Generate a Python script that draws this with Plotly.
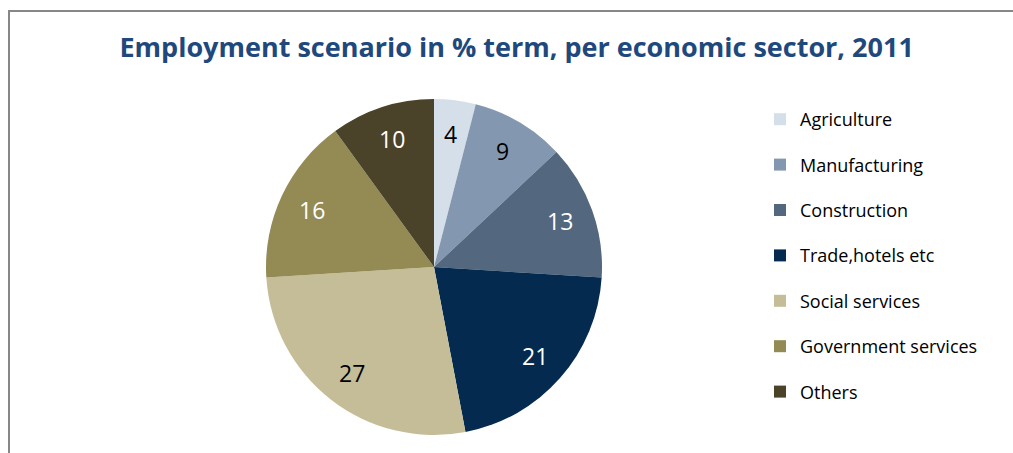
import math
import plotly.graph_objects as go

categories = ["Agriculture", "Manufacturing", "Construction", "Trade,hotels etc",
              "Social services", "Government services", "Others"]
values = [4, 9, 13, 21, 27, 16, 10]
colors = ["#D5DFE9", "#8497B0", "#53677E", "#042A4F", "#C4BD97", "#948A54", "#4A4229"]
label_colors = ["black", "black", "white", "white", "black", "white", "white"]

W, H = 1013, 453
cx, cy, r = 434, 267, 168
FONT = "Open Sans, sans-serif"

fig = go.Figure(go.Pie(
    labels=categories, values=values, sort=False, direction="clockwise", rotation=0,
    marker=dict(colors=colors, line=dict(width=0)),
    textinfo="none", hoverinfo="label+value", showlegend=False,
    domain=dict(x=[(cx - r) / W, (cx + r) / W], y=[1 - (cy + r) / H, 1 - (cy - r) / H]),
))

# legend entries (one per category, separate groups so gaps can be set)
for name, col in zip(categories, colors):
    fig.add_trace(go.Scatter(x=[None], y=[None], mode="markers", name=name,
                             legendgroup=name,
                             marker=dict(symbol="square", size=12, color=col)))

# data labels placed along each slice's mid-angle
total = sum(values)
cum = 0
annotations = []
for v, c in zip(values, label_colors):
    mid = (cum + v / 2) / total * 2 * math.pi
    cum += v
    px = cx + 0.8 * r * math.sin(mid)
    py = cy - 0.8 * r * math.cos(mid)
    annotations.append(dict(x=px / W, y=1 - py / H, xref="paper", yref="paper",
                            xanchor="center", yanchor="middle",
                            text=str(v), showarrow=False,
                            font=dict(size=23, color=c, family=FONT)))

fig.update_layout(
    width=W, height=H,
    margin=dict(l=0, r=0, t=0, b=0),
    paper_bgcolor="white", plot_bgcolor="white",
    xaxis=dict(visible=False), yaxis=dict(visible=False),
    title=dict(text="<b>Employment scenario in % term, per economic sector, 2011</b>",
               x=0.51, xanchor="center", y=1 - 48 / H, yanchor="middle",
               font=dict(size=27, color="#1F497D", family=FONT)),
    legend=dict(x=760 / W, xanchor="left", y=1 - 101 / H, yanchor="top",
                traceorder="grouped", tracegroupgap=19,
                font=dict(size=18, color="black", family=FONT),
                bgcolor="rgba(0,0,0,0)"),
    annotations=annotations,
    shapes=[dict(type="rect", xref="paper", yref="paper",
                 x0=9 / W, x1=1.02, y0=-0.02, y1=1 - 11 / H,
                 line=dict(color="#878787", width=2))],
)

fig.write_html("out.html", config={"displayModeBar": False},
               post_script="document.body.style.margin='0';document.body.style.overflow='hidden';")
